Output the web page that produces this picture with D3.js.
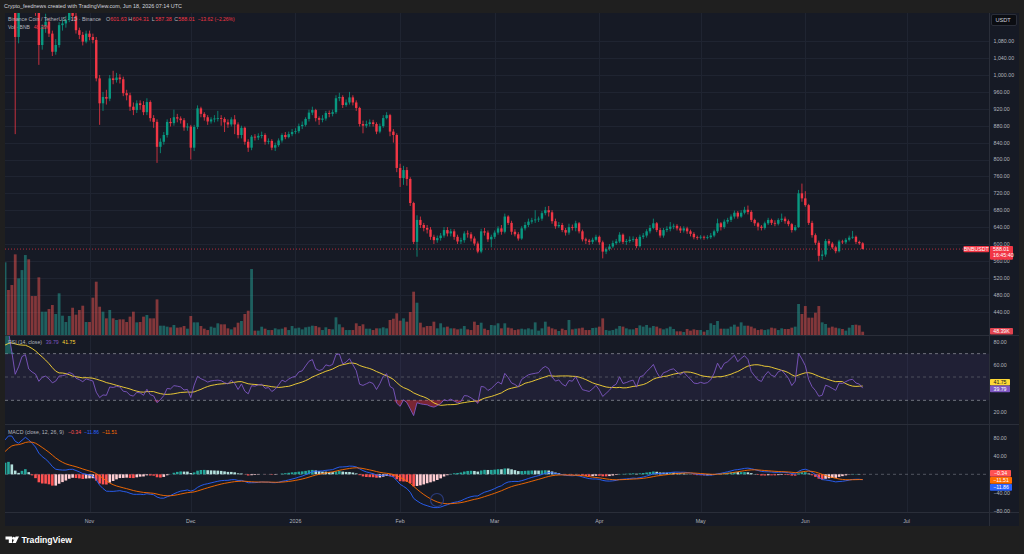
<!DOCTYPE html>
<html><head><meta charset="utf-8">
<script src="https://cdn.jsdelivr.net/npm/d3@7"></script>
<style>html,body{margin:0;padding:0;background:#1f1f1f;overflow:hidden}svg{display:block}</style>
</head><body><svg id="c" width="1024" height="554"></svg>
<script>
// ---------------- DATA ----------------
const startDate = Date.UTC(2025, 9, 7); // first daily candle: 7 Oct 2025
// closes before the visible range, only used to warm up RSI / MACD (18 Aug - 6 Oct 2025)
const priorCloses = [845,838,832,842,878,872,866,858,852,860,864,856,854,857,
851,856,861,866,860,866,871,876,882,900,906,910,924,930,934,940,958,988,1000,994,1000,1010,1001,986,971,975,990,1008,1005,1018,
1040,1068,1088,1120,1160,1230];
const closes = [1310,1295,1220,1090,1160,1290,1320,1200,1170,1150,
1071,1114,1126,1098,1055,1071,1118,1122,1130,1150,
1140,1106,1095,1079,1098,1090,1083,992,933,948,
944,992,988,994,990,957,952,925,917,933,
929,912,936,898,889,830,842,858,889,886,
900,897,893,876,878,828,877,921,908,900,
890,895,897,898,896,888,883,895,883,858,
875,842,828,854,852,856,858,842,844,828,
834,845,858,853,860,865,867,879,882,896,
911,917,898,894,897,910,908,912,945,948,
929,935,947,935,922,884,880,884,888,884,
866,879,898,905,866,858,780,756,775,754,
697,605,657,645,638,634,617,609,614,620,
633,625,630,617,606,609,625,623,613,601,
582,630,627,611,617,627,637,629,665,650,
629,623,613,637,645,653,656,658,660,673,
680,675,654,642,645,633,627,640,638,649,
630,611,608,605,610,617,604,582,588,594,
602,606,622,605,607,610,612,595,617,620,
630,638,649,633,620,633,636,641,643,637,
632,637,630,624,616,615,617,615,616,620,
630,649,640,653,657,665,674,665,674,681,
676,657,649,641,638,649,657,650,648,657,
660,654,647,633,640,720,708,692,650,621,
603,572,575,607,601,592,583,606,604,610,
615,617,605,601.63,588.01];
const highs = [1330,1340,1305,1240,1170,1300,1370,1340,1230,1190,
1165,1120,1145,1135,1105,1085,1125,1132,1140,1160,
1165,1148,1112,1102,1105,1105,1098,1090,1000,960,
965,1000,1010,1005,1002,996,965,958,935,940,
940,938,945,940,905,895,850,865,895,898,
918,908,902,898,886,882,882,928,925,912,
905,900,905,915,905,900,895,900,905,888,
880,878,848,858,860,862,866,862,850,848,
840,850,862,865,866,872,874,885,890,900,
918,925,920,902,905,915,916,918,952,958,
952,942,960,952,940,925,892,892,895,894,
888,885,905,912,908,872,862,790,785,782,
758,700,668,665,650,645,640,622,620,626,
640,640,636,635,622,615,630,632,628,618,
606,636,638,632,622,632,642,645,672,668,
655,635,628,642,652,660,662,680,665,678,
688,690,680,660,652,650,638,648,646,655,
652,634,615,612,615,622,620,608,592,600,
608,612,628,625,612,618,618,616,622,626,
635,645,660,652,638,638,642,652,648,647,
642,642,641,634,628,620,621,620,621,626,
634,660,652,658,662,670,679,678,680,688,
691,680,660,652,645,653,662,660,656,661,
672,665,658,650,645,728,743,725,695,655,
625,608,585,612,612,605,596,610,610,614,
620,631,620,608,604.31];
const lows = [1225,1280,1205,860,1075,1150,1270,1180,1150,1140,
1024,1060,1100,1090,1045,1048,1065,1105,1112,1125,
1128,1098,1085,1070,1075,1082,1075,985,882,915,
930,938,978,982,980,950,940,915,905,910,
918,905,905,890,875,792,815,835,852,878,
880,888,885,868,868,800,820,872,900,892,
882,885,888,890,880,865,875,878,860,850,
850,835,818,822,845,846,850,835,836,822,
820,830,840,848,850,855,860,862,872,878,
890,905,890,882,888,892,900,902,908,938,
922,925,930,928,915,878,862,875,878,878,
860,862,875,895,855,840,770,735,740,738,
690,600,570,638,630,625,610,600,603,608,
615,618,618,610,600,600,603,615,606,596,
578,578,620,605,592,612,622,622,625,645,
622,618,608,610,632,640,648,650,652,655,
668,665,648,636,638,628,620,622,632,630,
625,606,600,598,600,606,598,566,576,584,
590,598,602,600,598,603,605,590,592,612,
615,625,635,628,615,615,628,630,635,632,
626,627,624,618,611,610,611,610,611,612,
616,626,632,636,648,652,660,660,662,670,
670,652,643,632,632,634,645,645,642,644,
652,648,642,627,630,638,700,688,645,615,
598,559,562,570,596,588,578,580,600,600,
606,612,600,598,587.38];
// volume in thousands of BNB
const volumesK = [1069,662,735,1186,833,955,1176,1113,573,573,
848,343,343,382,441,309,613,284,191,280,
401,299,368,431,191,191,549,784,416,343,
245,368,245,221,230,230,191,270,343,186,
191,270,294,245,245,524,137,137,123,113,
147,108,113,132,93,279,186,186,132,93,
73,123,108,172,157,157,98,83,113,181,
206,309,357,970,64,64,122,93,73,73,
98,83,93,113,73,132,98,108,83,113,
122,137,132,113,73,113,88,83,260,157,
113,73,73,73,172,132,157,93,93,73,
98,98,113,98,221,240,319,211,245,196,
338,637,475,181,113,132,132,196,98,172,
113,123,98,98,83,93,132,83,73,196,
147,181,93,73,147,142,172,98,172,108,
98,73,83,93,83,98,83,186,64,98,
196,123,98,83,59,93,73,221,83,93,
98,108,73,73,103,108,123,245,73,64,
73,93,132,123,98,83,83,103,142,123,
147,108,132,123,98,83,98,123,88,54,
54,44,88,64,83,73,73,49,73,172,
147,206,93,93,93,123,152,123,186,137,
137,123,98,73,83,73,83,108,98,73,
98,88,88,108,123,456,309,426,255,255,
328,426,186,162,108,123,108,98,88,64,
108,147,152,142,48.39];
const priceTicks = [1080,1040,1000,960,920,880,840,800,760,720,680,640,600,560,520,480,440];
const rsiTicks = [80,60,20];
const macdTicks = [80,40,-40,-80];
const monthStarts = [Date.UTC(2025,10,1),Date.UTC(2025,11,1),Date.UTC(2026,0,1),Date.UTC(2026,1,1),Date.UTC(2026,2,1),Date.UTC(2026,3,1),Date.UTC(2026,4,1),Date.UTC(2026,5,1),Date.UTC(2026,6,1)];
const legendRsi = {rsi:"39.79", ma:"41.75"};
const legendMacd = {hist:"−0.34", macd:"−11.86", signal:"−11.51"};
const countdown = "16:45:40";

// ---------------- DERIVED ----------------
const DAY = 864e5;
const N = closes.length;
const opens = closes.map((c,i)=> i===0 ? priorCloses[priorCloses.length-1] : closes[i-1]);
const dates = closes.map((_,i)=> new Date(startDate + i*DAY));
const candles = closes.map((c,i)=>({d:dates[i],o:opens[i],c:c,h:Math.max(highs[i],opens[i],c),l:Math.min(lows[i],opens[i],c),v:volumesK[i]}));

const all = priorCloses.concat(closes);
const P = priorCloses.length;
function rma(src,n){let out=[],prev=null,sum=0,cnt=0;for(let i=0;i<src.length;i++){const v=src[i];if(v==null){out.push(null);continue;}if(prev==null){sum+=v;cnt++;if(cnt===n){prev=sum/n;out.push(prev);}else out.push(null);}else{prev=(prev*(n-1)+v)/n;out.push(prev);}}return out;}
function sma(src,n){return src.map((v,i)=>{if(i<n-1)return null;let s=0;for(let k=i-n+1;k<=i;k++){if(src[k]==null)return null;s+=src[k];}return s/n;});}
function ema(src,n){const a=2/(n+1);let p=null;return src.map(v=>{if(v==null)return null;p=p==null?v:a*v+(1-a)*p;return p;});}
const ups = all.map((v,i)=> i===0?null:Math.max(v-all[i-1],0));
const dns = all.map((v,i)=> i===0?null:Math.max(all[i-1]-v,0));
const ru = rma(ups,14), rd = rma(dns,14);
const rsiAll = all.map((_,i)=> ru[i]==null?null:(rd[i]===0?100:100-100/(1+ru[i]/rd[i])));
const rsiMaAll = sma(rsiAll,14);
const e12 = ema(all,12), e26 = ema(all,26);
const macdAll = all.map((_,i)=> e12[i]-e26[i]);
const sigAll = ema(macdAll,9);
const rsi = rsiAll.slice(P), rsiMa = rsiMaAll.slice(P);
const macd = macdAll.slice(P), sig = sigAll.slice(P);
const hist = macd.map((m,i)=> m - sig[i]);
const histPrev = macdAll.map((m,i)=> m - sigAll[i]).slice(P-1);

// ---------------- LAYOUT ----------------
const svg = d3.select('#c');
const FONT = "'Liberation Sans', Arial, sans-serif";
const PL=5, PR=989;
const mainTop=13, mainBot=335, rsiTop=336, rsiBot=424, macdTop=425, macdBot=512, axisBot=526;
const UP='#089981', DN='#f23645';

const x = d3.scaleUtc().domain([new Date(monthStarts[0]), new Date(monthStarts[8])]).range([89.5, 906.6]);
const y = d3.scaleLinear().domain([440,1080]).range([311.6, 41.2]);
const yV = d3.scaleLinear().domain([0,1200]).range([335, 253.4]);
const yR = d3.scaleLinear().domain([20,80]).range([412, 342]);
const yM = d3.scaleLinear().domain([-80,80]).range([510.9, 437.7]);

svg.append('rect').attr('width',1024).attr('height',554).attr('fill','#1f1f1f');
svg.append('rect').attr('x',5).attr('y',13).attr('width',1014).attr('height',513).attr('fill','#161a25');

const defs = svg.append('defs');
function clip(id,y0,y1){defs.append('clipPath').attr('id',id).append('rect').attr('x',PL).attr('y',y0).attr('width',PR-PL).attr('height',y1-y0);}
clip('cm',mainTop,mainBot); clip('cr',rsiTop,rsiBot); clip('cc',macdTop,macdBot);

const grid = svg.append('g').attr('stroke','#1f2431').attr('stroke-width',1);
priceTicks.forEach(t=>grid.append('line').attr('x1',PL).attr('x2',PR).attr('y1',Math.round(y(t))+0.5).attr('y2',Math.round(y(t))+0.5));
monthStarts.forEach(m=>{const xx=Math.round(x(new Date(m)))+0.5;grid.append('line').attr('x1',xx).attr('x2',xx).attr('y1',mainTop).attr('y2',macdBot);});

// separators
const sep = svg.append('g').attr('stroke','#2a2e39').attr('stroke-width',1);
[mainBot+0.5, rsiBot+0.5, macdBot+0.5].forEach(v=>sep.append('line').attr('x1',PL).attr('x2',1019).attr('y1',v).attr('y2',v));
sep.append('line').attr('x1',PR+0.5).attr('x2',PR+0.5).attr('y1',mainTop).attr('y2',axisBot);

// ---- main pane ----
const gm = svg.append('g').attr('clip-path','url(#cm)');
gm.selectAll('rect.v').data(candles).enter().append('rect')
  .attr('x',d=>x(d.d)-1.4).attr('width',2.8)
  .attr('y',d=>yV(d.v)).attr('height',d=>yV(0)-yV(d.v))
  .attr('fill',d=>d.c>=d.o?'rgba(38,166,154,0.5)':'rgba(239,83,80,0.5)');
gm.selectAll('line.w').data(candles).enter().append('line')
  .attr('x1',d=>x(d.d)).attr('x2',d=>x(d.d)).attr('y1',d=>y(d.h)).attr('y2',d=>y(d.l))
  .attr('stroke',d=>d.c>=d.o?UP:DN).attr('stroke-width',0.8);
gm.selectAll('rect.b').data(candles).enter().append('rect')
  .attr('x',d=>x(d.d)-1.2).attr('width',2.4)
  .attr('y',d=>y(Math.max(d.o,d.c))).attr('height',d=>Math.max(0.8,Math.abs(y(d.o)-y(d.c))))
  .attr('fill',d=>d.c>=d.o?UP:DN);
const last = candles[N-1];
gm.append('line').attr('x1',PL).attr('x2',PR).attr('y1',y(last.c)).attr('y2',y(last.c))
  .attr('stroke',DN).attr('stroke-opacity',0.7).attr('stroke-dasharray','1,2').attr('stroke-width',1);

// ---- RSI pane ----
const gr = svg.append('g').attr('clip-path','url(#cr)');
gr.append('rect').attr('x',PL).attr('width',PR-PL).attr('y',yR(70)).attr('height',yR(30)-yR(70)).attr('fill','rgba(126,87,194,0.1)');
[[70,'3,3',0.9],[50,'3,3',0.5],[30,'3,3',0.9]].forEach(([v,da,op])=>gr.append('line').attr('x1',PL).attr('x2',PR).attr('y1',yR(v)).attr('y2',yR(v)).attr('stroke','#787b86').attr('stroke-opacity',op).attr('stroke-dasharray',da));
const rsiPts = candles.map((d,i)=>({d:d.d,v:rsi[i],m:rsiMa[i]}));
gr.append('path').datum(rsiPts).attr('fill','rgba(38,166,154,0.45)')
  .attr('d',d3.area().x(d=>x(d.d)).y0(yR(70)).y1(d=>yR(Math.max(d.v,70))));
gr.append('path').datum(rsiPts).attr('fill','rgba(242,54,69,0.45)')
  .attr('d',d3.area().x(d=>x(d.d)).y0(yR(30)).y1(d=>yR(Math.min(d.v,30))));
gr.append('path').datum(rsiPts.filter(d=>d.m!=null)).attr('fill','none').attr('stroke','#fdd835').attr('stroke-width',0.9)
  .attr('d',d3.line().x(d=>x(d.d)).y(d=>yR(d.m)));
gr.append('path').datum(rsiPts).attr('fill','none').attr('stroke','#7e57c2').attr('stroke-width',0.9)
  .attr('d',d3.line().x(d=>x(d.d)).y(d=>yR(d.v)));

// ---- MACD pane ----
const gc = svg.append('g').attr('clip-path','url(#cc)');
gc.append('line').attr('x1',PL).attr('x2',PR).attr('y1',yM(0)).attr('y2',yM(0)).attr('stroke','#787b86').attr('stroke-opacity',0.6).attr('stroke-dasharray','3,3');
const histPts = candles.map((d,i)=>({d:d.d,h:hist[i],p:histPrev[i]}));
gc.selectAll('rect.h').data(histPts).enter().append('rect')
  .attr('x',d=>x(d.d)-1.3).attr('width',2.6)
  .attr('y',d=>Math.min(yM(d.h),yM(0))).attr('height',d=>Math.abs(yM(d.h)-yM(0)))
  .attr('fill',d=>d.h>=0?(d.h>d.p?'#26a69a':'#b2dfdb'):(d.h>d.p?'#ffcdd2':'#ff5252'));
const mPts = candles.map((d,i)=>({d:d.d,m:macd[i],s:sig[i]}));
gc.append('path').datum(mPts).attr('fill','none').attr('stroke','#2962ff').attr('stroke-width',0.9).attr('d',d3.line().x(d=>x(d.d)).y(d=>yM(d.m)));
gc.append('path').datum(mPts).attr('fill','none').attr('stroke','#ff6d00').attr('stroke-width',0.9).attr('d',d3.line().x(d=>x(d.d)).y(d=>yM(d.s)));

// ---- axes text ----
const axT = svg.append('g').attr('font-family',FONT).attr('font-size',5.3).attr('fill','#b2b5be');
const fmt = d3.format(',.2f');
priceTicks.forEach(t=>axT.append('text').attr('x',993.5).attr('y',y(t)+1.9).text(fmt(t)));
rsiTicks.forEach(t=>axT.append('text').attr('x',993.5).attr('y',yR(t)+1.9).text(fmt(t)));
macdTicks.forEach(t=>axT.append('text').attr('x',993.5).attr('y',yM(t)+1.9).text(fmt(t).replace('-','−')));
monthStarts.forEach(m=>{const dt=new Date(m);axT.append('text').attr('x',x(dt)).attr('y',522.5).attr('text-anchor','middle')
  .text(dt.getUTCMonth()===0?String(dt.getUTCFullYear()):d3.utcFormat('%b')(dt));});

// ---- labels on right axis ----
function tag(x0,y0,w,h,fill,txt,col){
  svg.append('rect').attr('x',x0).attr('y',y0).attr('width',w).attr('height',h).attr('fill',fill).attr('rx',0.8);
  svg.append('text').attr('x',x0+w/2).attr('y',y0+h/2+1.8).attr('text-anchor','middle')
    .attr('font-family',FONT).attr('font-size',5.2).attr('fill',col).text(txt);
}
svg.append('rect').attr('x',991.5).attr('y',14.5).attr('width',25).attr('height',11).attr('rx',1.5).attr('fill','#0b0d12').attr('stroke','#2a2e39');
svg.append('text').attr('x',995.5).attr('y',22).attr('font-family',FONT).attr('font-size',5.6).attr('fill','#d1d4dc').text('USDT');
tag(963.5,y(last.c)-3,25.5,6.2,DN,'BNBUSDT','#ffffff');
svg.append('rect').attr('x',990).attr('y',y(last.c)-3).attr('width',23).attr('height',13.6).attr('fill',DN).attr('rx',0.8);
svg.append('text').attr('x',993).attr('y',y(last.c)+2.1).attr('font-family',FONT).attr('font-size',5.3).attr('fill','#fff').text(d3.format('.2f')(last.c));
svg.append('text').attr('x',993).attr('y',y(last.c)+8.4).attr('font-family',FONT).attr('font-size',5.3).attr('fill','#fff').text(countdown);
tag(990,328,23,6.6,'#e0434f',d3.format('.2f')(last.v)+'K','#ffffff');
tag(990,379,20,6.6,'#fdd835',legendRsi.ma,'#131722');
tag(990,385.6,20,6.6,'#7e57c2',legendRsi.rsi,'#ffffff');
tag(990,470,21,6.8,'#ff5252',legendMacd.hist,'#ffffff');
tag(990,477,22,6.8,'#ff6d00',legendMacd.signal,'#ffffff');
tag(990,484,22,6.8,'#2962ff',legendMacd.macd,'#ffffff');

// ---- legends ----
function txt(g,x0,y0,s,c,len,fs){const t=g.append('text').attr('x',x0).attr('y',y0).attr('font-family',FONT).attr('font-size',fs||5.4).attr('fill',c).text(s);
  if(len) t.attr('textLength',len).attr('lengthAdjust','spacingAndGlyphs');return t;}
const lg = svg.append('g');
const f2 = d3.format('.2f');
const chg = last.c - last.o;
txt(lg,4,8.3,'Crypto_feednews created with TradingView.com, Jun 18, 2026 07:14 UTC','#d1d4dc',178,5.9);
txt(lg,8,21,'Binance Coin / TetherUS · 1D · Binance','#b2b5be',93);
txt(lg,106,21,'O','#b2b5be'); txt(lg,110.2,21,f2(last.o),DN,16.5);
txt(lg,128.3,21,'H','#b2b5be'); txt(lg,132.4,21,f2(last.h),DN,16.5);
txt(lg,151.7,21,'L','#b2b5be'); txt(lg,155.3,21,f2(last.l),DN,16.5);
txt(lg,174.3,21,'C','#b2b5be'); txt(lg,178.2,21,f2(last.c),DN,16.5);
txt(lg,197.7,21,(f2(chg)+' ('+f2(chg/last.o*100)+'%)').replace(/-/g,'−'),DN,37);
txt(lg,8,28.6,'Vol · BNB','#b2b5be',22);
txt(lg,33.7,28.6,f2(last.v)+'K',DN,16);
txt(lg,8,344.2,'RSI (14, close)','#b2b5be',34);
txt(lg,45.7,344.2,legendRsi.rsi,'#7e57c2',13);
txt(lg,62.3,344.2,legendRsi.ma,'#fdd835',13);
txt(lg,8,434.2,'MACD (close, 12, 26, 9)','#b2b5be',56);
txt(lg,68,434.2,legendMacd.hist,'#ff5252',13);
txt(lg,84,434.2,legendMacd.macd,'#2962ff',15);
txt(lg,102,434.2,legendMacd.signal,'#ff6d00',15);

// ---- event marker ----
svg.append('circle').attr('cx',437).attr('cy',500).attr('r',6.5).attr('fill','none').attr('stroke','#2a3b7a').attr('stroke-width',1.2);

// ---- footer logo ----
const lo = svg.append('g').attr('fill','#ffffff');
lo.append('path').attr('d','M5.5 536.5 h6.5 v6.5 h-3.2 v-3.6 h-3.3 z');
lo.append('circle').attr('cx',13.6).attr('cy',538.2).attr('r',1.5);
lo.append('path').attr('d','M15.6 536.5 h3.4 l-3.2 6.5 h-3.4 z');
lo.append('text').attr('x',21.5).attr('y',543.3).attr('font-family',FONT).attr('font-size',8.6).attr('font-weight','bold').attr('fill','#ffffff').text('TradingView');
</script></body></html>
